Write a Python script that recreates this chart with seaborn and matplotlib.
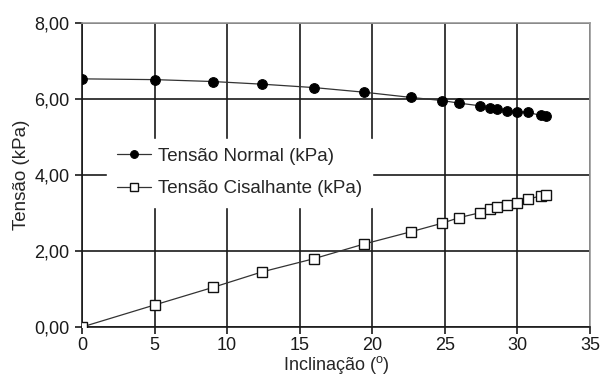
import matplotlib
matplotlib.use("Agg")
import matplotlib.pyplot as plt
import seaborn as sns
import pandas as pd

# Inclination angles (degrees) and measured stresses (kPa)
inclinacao = [0.0, 5.0, 9.0, 12.4, 16.0, 19.4, 22.7, 24.8, 26.0, 27.45,
              28.1, 28.6, 29.3, 30.0, 30.7, 31.6, 32.0]
tensao_normal = [6.53, 6.51, 6.46, 6.39, 6.30, 6.18, 6.04, 5.96, 5.89, 5.82,
                 5.76, 5.73, 5.69, 5.67, 5.65, 5.57, 5.54]
tensao_cisalhante = [0.00, 0.58, 1.04, 1.45, 1.80, 2.18, 2.51, 2.73, 2.88, 3.01,
                     3.10, 3.17, 3.22, 3.27, 3.36, 3.45, 3.47]

x_ticks = [0, 5, 10, 15, 20, 25, 30, 35]
y_ticks = [0, 2, 4, 6, 8]
y_tick_labels = ["0,00", "2,00", "4,00", "6,00", "8,00"]

sns.set_style("white")
plt.rcParams["font.family"] = ["Liberation Sans", "DejaVu Sans"]
plt.rcParams["mathtext.fontset"] = "custom"
plt.rcParams["mathtext.rm"] = "Liberation Sans"

df = pd.DataFrame({"x": inclinacao, "normal": tensao_normal,
                   "cis": tensao_cisalhante})

fig = plt.figure(figsize=(6.0, 3.77), dpi=100)
ax = fig.add_axes([0.1367, 0.1326, 0.8466, 0.8064])

sns.lineplot(data=df, x="x", y="normal", ax=ax, color="#333333", lw=0.9,
             marker="o", markersize=7, markerfacecolor="black",
             markeredgecolor="black", label="Tensão Normal (kPa)", zorder=3)
sns.lineplot(data=df, x="x", y="cis", ax=ax, color="#333333", lw=0.9,
             marker="s", markersize=7, markerfacecolor="white",
             markeredgecolor="#111111", markeredgewidth=1.0,
             label="Tensão Cisalhante (kPa)", zorder=3)

ax.set_xlim(0, 35)
ax.set_ylim(0, 8)
ax.set_xticks(x_ticks)
ax.set_yticks(y_ticks)
ax.set_yticklabels(y_tick_labels)
ax.grid(True, color="#1a1a1a", lw=1.2, zorder=0)
ax.set_axisbelow(True)

for side in ("left", "bottom"):
    ax.spines[side].set_color("#1a1a1a")
    ax.spines[side].set_linewidth(1.2)
for side in ("top", "right"):
    ax.spines[side].set_color("#9a9a9a")
    ax.spines[side].set_linewidth(1.2)

ax.tick_params(axis="both", labelsize=13, colors="#1a1a1a", length=5,
               width=1.2, direction="out", bottom=True, left=True, pad=4)
ax.tick_params(axis="x", pad=2)

ax.set_xlabel("Inclinação ($^{\\mathrm{o}}$)", fontsize=13, labelpad=0)
ax.set_ylabel("Tensão (kPa)", fontsize=13.5, labelpad=3)

leg = ax.legend(loc="upper left", bbox_to_anchor=(0.05, 0.62),
                fontsize=13.5, frameon=True, fancybox=False, framealpha=1.0,
                edgecolor="white", facecolor="white", markerscale=0.8,
                handlelength=1.8, handletextpad=0.4, labelspacing=0.8,
                borderpad=0.5, borderaxespad=0)
leg.set_zorder(5)

fig.savefig("out.png", dpi=100)
